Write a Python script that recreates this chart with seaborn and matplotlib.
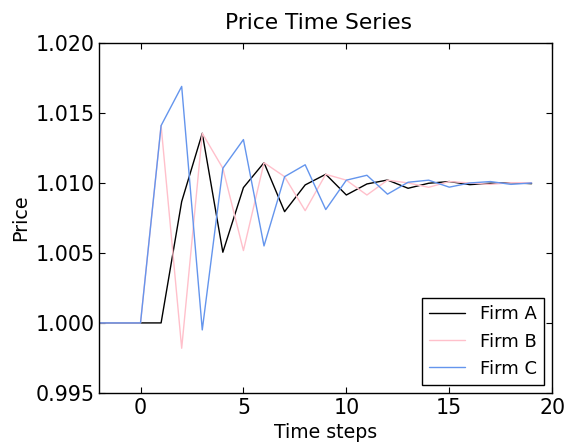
import matplotlib

matplotlib.use("Agg")
import matplotlib.pyplot as plt
import pandas as pd
import seaborn as sns

steps = list(range(-2, 20))

firm_a = [1.0, 1.0, 1.0, 1.0, 1.00867, 1.01355, 1.00505, 1.00967, 1.01145, 1.00795,
          1.00986, 1.01062, 1.00914, 1.00993, 1.01021, 1.00962, 1.00998, 1.0101,
          1.00988, 1.00998, 1.01002, 1.00995]
firm_b = [1.0, 1.0, 1.0, 1.0141, 0.99819, 1.01355, 1.01105, 1.00517, 1.01145, 1.01045,
          1.00802, 1.01062, 1.0102, 1.00914, 1.0102, 1.01, 1.00969, 1.0101,
          1.01, 1.0099, 1.01002, 1.01002]
firm_c = [1.0, 1.0, 1.0, 1.0141, 1.0169, 0.9995, 1.01105, 1.0131, 1.0055, 1.01045,
          1.0113, 1.0081, 1.0102, 1.01055, 1.0092, 1.01005, 1.0102, 1.0097,
          1.01, 1.0101, 1.0099, 1.01]

firm_names = ["Firm A", "Firm B", "Firm C"]
firm_colors = ["black", "pink", "cornflowerblue"]

df = pd.DataFrame({
    "step": steps * 3,
    "price": firm_a + firm_b + firm_c,
    "firm": [n for n in firm_names for _ in steps],
})

sns.set_style("ticks")
plt.rcParams["font.family"] = ["DejaVu Sans"]
plt.rcParams["text.color"] = "black"
plt.rcParams["axes.labelcolor"] = "black"
plt.rcParams["xtick.color"] = "black"
plt.rcParams["ytick.color"] = "black"
plt.rcParams["xtick.direction"] = "in"
plt.rcParams["ytick.direction"] = "in"
plt.rcParams["xtick.top"] = True
plt.rcParams["ytick.right"] = True
plt.rcParams["xtick.major.size"] = 4
plt.rcParams["ytick.major.size"] = 4

fig, ax = plt.subplots(figsize=(5.71, 4.48), dpi=100)
fig.subplots_adjust(left=0.174, right=0.967, top=0.904, bottom=0.123)

sns.lineplot(
    data=df,
    x="step",
    y="price",
    hue="firm",
    hue_order=firm_names,
    palette=firm_colors,
    linewidth=1,
    ax=ax,
)

ax.set_xlim(-2, 20)
ax.set_ylim(0.995, 1.020)
ax.set_xticks([0, 5, 10, 15, 20])
ax.set_yticks([0.995, 1.000, 1.005, 1.010, 1.015, 1.020])
ax.yaxis.set_major_formatter(matplotlib.ticker.FormatStrFormatter("%.3f"))
ax.tick_params(labelsize=14.8, width=0.8)
for spine in ax.spines.values():
    spine.set_edgecolor("black")
    spine.set_linewidth(1)

ax.set_title("Price Time Series", fontsize=15.7, pad=10, x=0.485)
ax.set_xlabel("Time steps", fontsize=13.6)
ax.set_ylabel("Price", fontsize=13.8)

leg = ax.legend(loc="lower right", fontsize=13, fancybox=False, frameon=True,
                borderaxespad=0.45, framealpha=1, handlelength=2)
leg.get_frame().set_edgecolor("black")
leg.get_frame().set_linewidth(1)

plt.savefig("out.png", dpi=100)
plt.close()
